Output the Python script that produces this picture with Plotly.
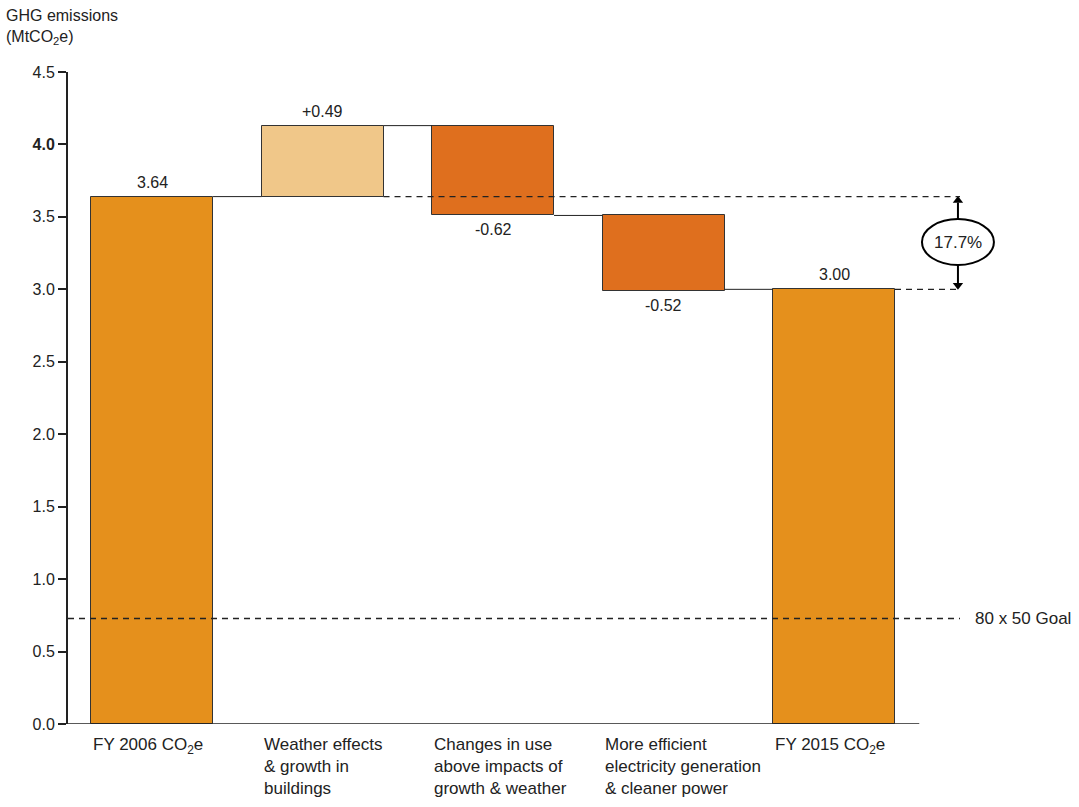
import plotly.graph_objects as go

categories = ["FY 2006 CO<sub>2</sub>e", "Weather effects<br>& growth in<br>buildings",
              "Changes in use<br>above impacts of<br>growth & weather",
              "More efficient<br>electricity generation<br>& cleaner power", "FY 2015 CO<sub>2</sub>e"]
changes = [3.64, 0.49, -0.62, -0.52, 3.00]
value_labels = ["3.64", "+0.49", "-0.62", "-0.52", "3.00"]
colors = ["#E5901C", "#F0C789", "#DF6F1E", "#DF6F1E", "#E5901C"]
goal = 0.728
pct_label = "17.7%"
y_ticks = [0.0, 0.5, 1.0, 1.5, 2.0, 2.5, 3.0, 3.5, 4.0, 4.5]

FONT = "Liberation Sans Narrow, Arial Narrow, Liberation Sans, sans-serif"
W = 0.7155
half = W / 2
PX_Y = 4.5 / 652.0

bases, heights, running = [], [], 0.0
for i, c in enumerate(changes):
    if i == 0 or i == len(changes) - 1:
        bases.append(0.0); heights.append(c); running = c
    else:
        new = running + c
        bases.append(min(running, new)); heights.append(abs(c)); running = new

xs = list(range(len(changes)))
fig = go.Figure()
fig.add_trace(go.Bar(x=xs, y=heights, base=bases, width=W,
                     marker=dict(color=colors, line=dict(color="#333333", width=1)),
                     hoverinfo="skip"))

shapes = []
levels = []
run = 0.0
for i, c in enumerate(changes[:-1]):
    run = c if i == 0 else run + c
    levels.append(run)
for i, lv in enumerate(levels):
    lv_draw = lv if i < len(levels) - 1 else changes[-1]
    shapes.append(dict(type="line", x0=i + half, x1=i + 1 - half, y0=lv_draw, y1=lv_draw,
                       line=dict(color="#222222", width=1)))
x_arrow = 4.727
dash = "6px,5px"
shapes.append(dict(type="line", x0=1 + half, x1=x_arrow + 0.012, y0=changes[0], y1=changes[0],
                   line=dict(color="#222222", width=1.3, dash=dash)))
shapes.append(dict(type="line", x0=4 + half, x1=x_arrow + 0.012, y0=changes[-1], y1=changes[-1],
                   line=dict(color="#222222", width=1.3, dash=dash)))
shapes.append(dict(type="line", x0=-0.493, x1=x_arrow + 0.012, y0=goal, y1=goal,
                   line=dict(color="#222222", width=1.3, dash=dash)))
shapes.append(dict(type="line", x0=-0.493, x1=4.5, y0=0, y1=0, line=dict(color="#222222", width=1.5)))
e_top, e_bot = 3.485, 3.168
shapes.append(dict(type="circle", x0=x_arrow - 0.211, x1=x_arrow + 0.211, y0=e_bot, y1=e_top,
                   line=dict(color="black", width=2), fillcolor="white"))
# arrow stems
shapes.append(dict(type="line", x0=x_arrow, x1=x_arrow, y0=e_top, y1=changes[0] - 6 * PX_Y,
                   line=dict(color="black", width=2)))
shapes.append(dict(type="line", x0=x_arrow, x1=x_arrow, y0=e_bot, y1=changes[-1] + 6 * PX_Y,
                   line=dict(color="black", width=2)))
# arrow heads
fig.add_trace(go.Scatter(x=[x_arrow, x_arrow],
                         y=[changes[0] - 4 * PX_Y, changes[-1] + 4 * PX_Y],
                         mode="markers", hoverinfo="skip",
                         marker=dict(symbol=["triangle-up", "triangle-down"], size=9, color="black")))

annotations = []
annotations.append(dict(x=x_arrow, y=(e_top + e_bot) / 2, text=pct_label, showarrow=False,
                        font=dict(family=FONT, size=17, color="#222222")))
for i, (lab, b, h) in enumerate(zip(value_labels, bases, heights)):
    neg = lab.startswith("-")
    annotations.append(dict(x=i, y=b if neg else b + h, text=lab, showarrow=False,
                            yanchor="top" if neg else "bottom", yshift=-4 if neg else 4,
                            font=dict(family=FONT, size=16, color="#222222")))
for i, cat in enumerate(categories):
    annotations.append(dict(x=i - half, y=0, text=cat, showarrow=False, xanchor="left",
                            yanchor="top", yshift=-9, align="left",
                            font=dict(family=FONT, size=17, color="#222222")))
annotations.append(dict(x=x_arrow + 0.09, y=goal, text="80 x 50 Goal", showarrow=False,
                        xanchor="left", font=dict(family=FONT, size=17, color="#222222")))
annotations.append(dict(xref="paper", yref="paper", x=-0.0633, y=1 + 67 / 652.0,
                        text="GHG emissions<br>(MtCO<sub>2</sub>e)",
                        showarrow=False, xanchor="left", yanchor="top", align="left",
                        font=dict(family=FONT, size=16, color="#222222")))

ticktext = [("<b>%.1f</b>" % v) if v == 4.0 else "%.1f" % v for v in y_ticks]

fig.update_layout(
    width=1079, height=807,
    margin=dict(l=68, r=0, t=72, b=83),
    plot_bgcolor="white", paper_bgcolor="white",
    showlegend=False, shapes=shapes, annotations=annotations,
    bargap=0,
    xaxis=dict(range=[-0.493, 5.437], showgrid=False, zeroline=False, showticklabels=False,
               showline=False, ticks=""),
    yaxis=dict(range=[0, 4.5], tickvals=y_ticks, ticktext=ticktext, showgrid=False,
               zeroline=False, showline=True, linecolor="#222222", linewidth=2,
               ticks="outside", ticklen=8, tickwidth=2, tickcolor="#222222",
               tickfont=dict(family=FONT, size=16, color="#222222")),
)
fig.write_html("out.html")
